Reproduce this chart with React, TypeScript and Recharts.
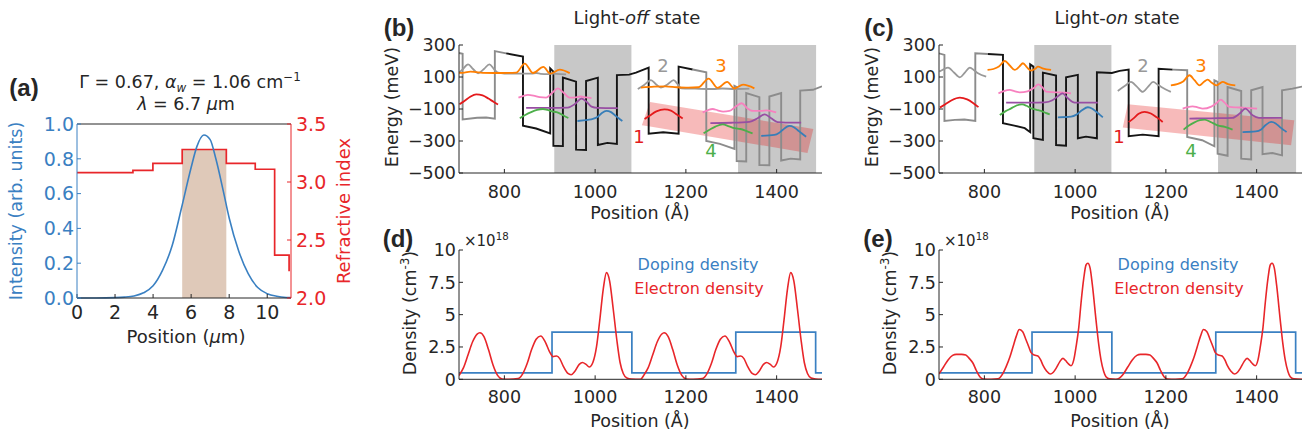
import React from 'react';
import { ComposedChart, Line, Area, XAxis, YAxis, ReferenceLine } from 'recharts';

const FONT = '"DejaVu Sans", "Liberation Sans", sans-serif';
const BOLD_FONT = '"Liberation Sans", Arial, sans-serif';
const AX = '#262626';
const BLUE = '#3A80C2';
const RED = '#E8262A';
const BAND_GRAY = '#8C8C8C';
const BAND_BLACK = '#151515';
const C_RED = '#E41A1C';
const C_BLUE = '#377EB8';
const C_GREEN = '#4DAF4A';
const C_PURPLE = '#984EA3';
const C_ORANGE = '#FF7F00';
const C_PINK = '#F781BF';
const C_GRAY = '#999999';
const SHADE = '#C8C8C8';
const TICK = 17.5;

type P = [number, number][];
const toXY = (a: P) => a.map(([x, y]) => ({ x, y }));

// ---------------- panel (a) ----------------
const posUm = [0, 1, 2, 2.5, 3, 3.5, 4, 4.5, 5, 5.5, 6, 6.3, 6.67, 7, 7.3, 7.7, 8, 8.5, 9, 9.5, 10, 10.5, 11, 11.25];
const intensity = [0, 0, 0.002, 0.005, 0.012, 0.03, 0.07, 0.16, 0.3, 0.52, 0.75, 0.87, 0.937, 0.91, 0.8, 0.61, 0.46, 0.27, 0.14, 0.06, 0.025, 0.01, 0.003, 0.002];
const stepPos = [0, 2.94, 3.99, 5.53, 7.85, 9.37, 10.39, 11.15];
const refIndex = [3.08, 3.1, 3.16, 3.28, 3.16, 3.11, 2.37, 2.23];
const activeRegion = [5.53, 7.85];
const activeTop = 0.85;
const aXTicks = [0, 2, 4, 6, 8, 10];
const aLeftTicks = [0, 0.2, 0.4, 0.6, 0.8, 1];
const aRightTicks = [2, 2.5, 3, 3.5];

// ---------------- panels (b),(c) ----------------
const posTicks = [800, 1000, 1200, 1400];
const energyTicks = [-500, -300, -100, 100, 300];
const barrierShade: [number, number][] = [[910, 1080], [1315, 1487]];

const offBandGrayL: P = [[700, 250], [708, 245], [708, -165], [740, -155], [760, -153], [779, -160], [779, 262], [804, 248]];
const offBandBlack: P = [[804, 248], [841, 228], [841, -204], [870, -222], [901, -252], [901, 154], [908, 134], [908, -330], [929, -332], [929, 96], [958, 71], [958, -354], [980, -356], [980, 75], [1006, 96], [1006, -325], [1027, -312], [1048, -318], [1048, 112], [1075, 115], [1090, 127], [1118, 158], [1118, -255], [1150, -245], [1184, -255], [1184, 165], [1215, 147]];
const offBandGrayR: P = [[1215, 147], [1245, 129], [1245, -300], [1275, -318], [1307, -350], [1307, 45], [1312, 37], [1312, -425], [1333, -428], [1333, 0], [1362, -26], [1362, -450], [1384, -452], [1384, -22], [1410, 0], [1410, -422], [1431, -410], [1452, -415], [1452, 15], [1480, 20], [1500, 42]];

const offOrange1: P = [[700, 126], [712, 128], [725, 134], [738, 130], [752, 126], [790, 125], [826, 127], [845, 184], [863, 125], [886, 163], [901, 121], [922, 146], [944, 124]];
const offOrange2: P = [[1101, 34], [1130, 40], [1155, 42], [1180, 36], [1205, 33], [1228, 36], [1250, 90], [1270, 32], [1291, 69], [1307, 28], [1326, 52], [1351, 29]];
const offGray1: P = [[700, 127], [708, 148], [720, 179], [731, 150], [742, 123], [755, 150], [767, 179], [777, 150], [786, 127], [800, 122], [840, 121], [860, 121], [870, 125], [880, 120], [895, 118], [905, 122], [915, 119], [936, 117]];
const offGray2: P = [[1094, 25], [1108, 50], [1123, 81], [1134, 55], [1145, 34], [1160, 55], [1173, 81], [1182, 55], [1190, 29], [1220, 27], [1260, 25], [1280, 28], [1307, 25], [1340, 27]];
const offRed1: P = [[701, -70], [712, -50], [724, -25], [738, -8], [752, -15], [765, -35], [776, -55], [786, -72]];
const offRed2: P = [[1109, -162], [1120, -142], [1135, -115], [1153, -102], [1167, -110], [1180, -135], [1193, -160]];
const offPink1: P = [[831, -29], [842, -18], [852, -12], [864, -16], [878, -26], [892, -29], [905, 0], [918, 29], [930, 3], [944, -29], [958, -27], [968, -22], [980, -28], [992, -32]];
const offPink2: P = [[1237, -121], [1248, -108], [1259, -100], [1270, -108], [1282, -116], [1296, -112], [1310, -85], [1323, -64], [1335, -95], [1348, -112], [1365, -112], [1378, -108], [1399, -121]];
const offPurple1: P = [[848, -93], [900, -93], [940, -91], [955, -70], [970, -35], [981, -55], [992, -85], [1005, -93], [1050, -95]];
const offPurple2: P = [[1254, -188], [1300, -186], [1340, -180], [1358, -158], [1374, -133], [1388, -158], [1402, -182], [1420, -185], [1454, -185]];
const offGreen1: P = [[834, -158], [846, -138], [859, -120], [872, -106], [885, -100], [895, -106], [905, -115], [915, -120], [925, -132], [933, -145], [941, -156]];
const offGreen2: P = [[1239, -252], [1252, -230], [1265, -210], [1281, -196], [1295, -208], [1307, -220], [1320, -225], [1334, -238], [1347, -252]];
const offBlue1: P = [[961, -175], [984, -168], [995, -162], [1006, -148], [1015, -125], [1025, -112], [1034, -118], [1043, -137], [1052, -158], [1060, -175]];
const offBlue2: P = [[1366, -268], [1395, -262], [1405, -250], [1413, -231], [1428, -206], [1438, -214], [1446, -231], [1455, -252], [1465, -273]];
const offBandX = [1103, 1121, 1468, 1481];
const offBandLow = [-202, -210, -375, -225];
const offBandHigh = [-202, -56, -219, -225];

const onBandGrayL: P = [[700, 248], [712, 238], [712, -175], [735, -168], [756, -166], [780, -175], [780, 248], [808, 244]];
const onBandBlack: P = [[808, 244], [841, 238], [841, -189], [866, -204], [889, -220], [901, -245], [901, 179], [908, 165], [908, -283], [929, -293], [929, 127], [958, 109], [958, -325], [980, -329], [980, 98], [1006, 113], [1006, -283], [1024, -273], [1048, -283], [1048, 129], [1081, 125], [1098, 138], [1118, 146], [1118, -270], [1149, -260], [1184, -270], [1184, 152], [1215, 146]];
const onBandGrayR: P = [[1215, 146], [1247, 142], [1247, -275], [1280, -295], [1307, -333], [1307, 79], [1314, 69], [1314, -379], [1336, -392], [1336, 37], [1366, 12], [1366, -410], [1388, -416], [1388, 17], [1413, 37], [1413, -383], [1435, -375], [1456, -390], [1456, 17], [1479, 27], [1500, 40]];

const onGray1: P = [[701, 134], [710, 148], [720, 159], [733, 128], [746, 98], [757, 128], [768, 159], [778, 140], [786, 123], [804, 102]];
const onGray2: P = [[1094, 13], [1110, 45], [1123, 69], [1136, 40], [1149, 7], [1161, 40], [1172, 69], [1182, 52], [1190, 38], [1211, 7]];
const onOrange1: P = [[807, 144], [820, 150], [832, 165], [845, 200], [856, 172], [867, 144], [877, 165], [885, 186], [894, 160], [903, 140], [912, 152], [918, 165], [930, 152], [947, 144]];
const onOrange2: P = [[1211, 48], [1225, 55], [1238, 72], [1252, 111], [1263, 80], [1274, 48], [1284, 70], [1292, 84], [1302, 62], [1311, 48], [1319, 60], [1325, 69], [1337, 56], [1353, 48]];
const onPink1: P = [[831, -2], [843, 12], [856, 19], [866, 12], [878, 4], [895, 10], [908, 30], [919, 54], [928, 35], [936, 9], [950, 5], [962, 4], [978, 2], [991, -2]];
const onPink2: P = [[1237, -98], [1248, -88], [1259, -83], [1270, -90], [1281, -98], [1300, -85], [1312, -62], [1321, -41], [1330, -62], [1340, -87], [1355, -90], [1369, -91], [1385, -94], [1401, -98]];
const onPurple1: P = [[848, -60], [900, -60], [933, -58], [950, -45], [962, -20], [972, -2], [984, -33], [999, -60], [1050, -60]];
const onPurple2: P = [[1252, -160], [1300, -158], [1347, -156], [1362, -130], [1375, -98], [1391, -139], [1405, -155], [1456, -156]];
const onGreen1: P = [[834, -137], [846, -115], [859, -96], [871, -78], [883, -71], [893, -80], [903, -96], [915, -105], [925, -112], [935, -124], [944, -133]];
const onGreen2: P = [[1239, -229], [1250, -205], [1262, -185], [1275, -170], [1285, -166], [1298, -180], [1314, -202], [1330, -212], [1347, -229]];
const onBlue1: P = [[962, -152], [991, -148], [1003, -135], [1015, -108], [1028, -89], [1038, -98], [1046, -116], [1054, -135], [1061, -152]];
const onBlue2: P = [[1369, -244], [1398, -240], [1410, -228], [1420, -200], [1432, -181], [1442, -190], [1452, -215], [1460, -232], [1466, -244]];
const onRed1: P = [[702, -91], [714, -70], [728, -45], [746, -29], [762, -40], [775, -62], [787, -88]];
const onRed2: P = [[1118, -181], [1128, -160], [1140, -130], [1153, -118], [1167, -128], [1180, -152], [1193, -181]];
const onBandX = [1105, 1116, 1476, 1483];
const onBandLow = [-216, -219, -327, -171];
const onBandHigh = [-216, -71, -169, -171];

// ---------------- panels (d),(e) ----------------
const densityTicks = [0, 2.5, 5, 7.5, 10];
const dopingPos = [700, 905, 1081, 1310, 1486, 1500];
const dopingVal = [0.5, 3.65, 0.5, 3.65, 0.5, 0.5];

const offElectron: P = [[700, 0.3], [710, 0.9], [720, 1.9], [730, 2.9], [740, 3.5], [746, 3.6], [755, 3.3], [765, 2.3], [775, 1.1], [785, 0.3], [795, 0.02], [810, 0], [830, 0.05], [840, 0.4], [850, 1.2], [860, 2.3], [870, 3.1], [880, 3.35], [890, 2.9], [900, 2.1], [907, 1.75], [915, 1.8], [922, 1.6], [930, 1.0], [940, 0.45], [947, 0.35], [955, 0.6], [965, 1.15], [972, 1.3], [980, 1.15], [987, 0.95], [995, 1.3], [1003, 2.5], [1010, 4.5], [1018, 7.0], [1025, 8.25], [1032, 7.6], [1040, 5.4], [1048, 3.0], [1055, 1.3], [1062, 0.45], [1070, 0.1], [1080, 0.02], [1100, 0],
  [1108, 0.35], [1117, 0.9], [1127, 1.9], [1137, 2.9], [1147, 3.5], [1152, 3.6], [1161, 3.3], [1171, 2.3], [1181, 1.1], [1191, 0.3], [1201, 0.02], [1216, 0], [1236, 0.05], [1246, 0.4], [1256, 1.2], [1266, 2.3], [1276, 3.1], [1286, 3.35], [1296, 2.9], [1306, 2.1], [1313, 1.75], [1321, 1.8], [1328, 1.6], [1336, 1.0], [1346, 0.45], [1353, 0.35], [1361, 0.6], [1371, 1.15], [1378, 1.3], [1386, 1.15], [1393, 0.95], [1401, 1.3], [1409, 2.5], [1416, 4.5], [1424, 7.0], [1431, 8.25], [1438, 7.6], [1446, 5.4], [1454, 3.0], [1461, 1.3], [1468, 0.45], [1476, 0.1], [1486, 0.02], [1500, 0]];

const onElectron: P = [[700, 0.41], [710, 0.95], [720, 1.5], [730, 1.85], [738, 1.93], [750, 1.93], [759, 1.88], [767, 1.6], [775, 1.24], [782, 0.7], [790, 0.2], [798, 0.02], [815, 0], [830, 0.03], [840, 0.4], [848, 0.98], [856, 1.7], [863, 2.5], [870, 3.3], [877, 3.85], [884, 3.7], [892, 3.04], [898, 2.5], [903, 2.06], [910, 1.88], [918, 1.8], [924, 1.5], [929, 1.1], [937, 0.65], [945, 0.41], [952, 0.55], [958, 0.85], [966, 1.35], [973, 1.62], [979, 1.45], [984, 1.24], [991, 1.05], [997, 1.5], [1002, 2.5], [1008, 4.0], [1013, 5.9], [1019, 7.8], [1024, 8.84], [1028, 8.97], [1033, 8.6], [1038, 7.3], [1046, 4.6], [1052, 2.7], [1057, 1.5], [1063, 0.6], [1068, 0.2], [1076, 0.03], [1090, 0],
  [1106, 0.4], [1116, 0.95], [1126, 1.5], [1136, 1.85], [1144, 1.93], [1156, 1.93], [1165, 1.88], [1173, 1.6], [1181, 1.24], [1188, 0.7], [1196, 0.2], [1204, 0.02], [1221, 0], [1236, 0.03], [1246, 0.4], [1254, 0.98], [1262, 1.7], [1269, 2.5], [1276, 3.3], [1283, 3.85], [1290, 3.7], [1298, 3.04], [1304, 2.5], [1309, 2.06], [1316, 1.88], [1324, 1.8], [1330, 1.5], [1335, 1.1], [1343, 0.65], [1351, 0.41], [1358, 0.55], [1364, 0.85], [1372, 1.35], [1379, 1.62], [1385, 1.45], [1390, 1.24], [1397, 1.05], [1403, 1.5], [1408, 2.5], [1414, 4.0], [1419, 5.9], [1425, 7.8], [1430, 8.84], [1434, 8.97], [1439, 8.6], [1444, 7.3], [1452, 4.6], [1458, 2.7], [1463, 1.5], [1469, 0.6], [1474, 0.2], [1482, 0.03], [1500, 0]];

// ---------------- helpers ----------------
const tickStyle = (size: number, color = AX) => ({ fontSize: size, fill: color, fontFamily: FONT });
const fmtEnergy = (v: number) => (v < 0 ? '\u2212' + Math.abs(v) : String(v));

// y tick of the energy axes, drawn as one plain SVG text node (no word splitting)
const EnergyTick = (props: any) => {
  const { x, y, payload } = props;
  return (
    <text x={x} y={y} dy="0.355em" textAnchor="end" fontSize={TICK} fill={AX} fontFamily={FONT}>
      {fmtEnergy(payload.value)}
    </text>
  );
};

type TxtProps = { x: number; y: number; size?: number; color?: string; rot?: number; weight?: number; family?: string; align?: 'center' | 'left'; children: React.ReactNode };
function Txt({ x, y, size = 18, color = AX, rot = 0, weight = 400, family = FONT, align = 'center', children }: TxtProps) {
  const tx = align === 'center' ? '-50%' : '0';
  return (
    <div style={{ position: 'absolute', left: x, top: y, transform: `translate(${tx},-50%) rotate(${rot}deg)`, fontFamily: family, fontSize: size, color, whiteSpace: 'nowrap', fontWeight: weight, lineHeight: 1 }}>
      {children}
    </div>
  );
}
const Sup = ({ children }: { children: React.ReactNode }) => (
  <span style={{ fontSize: '0.68em', position: 'relative', top: '-0.55em' }}>{children}</span>
);
const Sub = ({ children }: { children: React.ReactNode }) => (
  <span style={{ fontSize: '0.68em', position: 'relative', top: '0.3em' }}>{children}</span>
);

type Wave = { color: string; pts: P };

function BandChart({ left, grayL, black, grayR, waves, bx, blo, bhi }: { left: number; grayL: P; black: P; grayR: P; waves: Wave[]; bx: number[]; blo: number[]; bhi: number[] }) {
  const para = bx.map((x, i) => ({ x, r: [blo[i], bhi[i]] }));
  return (
    <div style={{ position: 'absolute', left, top: 0 }}>
      <ComposedChart width={450} height={230} margin={{ top: 45, right: 8, bottom: 32, left: 0 }}>
        <XAxis type="number" dataKey="x" domain={[700, 1500]} ticks={posTicks} allowDataOverflow stroke={AX} tickSize={-4} tickMargin={17} tick={tickStyle(TICK)} height={25} />
        <YAxis type="number" domain={[-500, 300]} ticks={energyTicks} allowDataOverflow width={79} stroke={AX} tickSize={-4} tickMargin={7} tick={<EnergyTick />} />
        {barrierShade.map(([a, b], i) => (
          <Area key={'s' + i} data={[{ x: a, r: [-500, 300] }, { x: b, r: [-500, 300] }]} dataKey="r" type="linear" fill={SHADE} fillOpacity={1} stroke="none" isAnimationActive={false} />
        ))}
        <Area data={para} dataKey="r" type="linear" fill={C_RED} fillOpacity={0.3} stroke="none" isAnimationActive={false} />
        <Line data={toXY(grayL)} dataKey="y" type="linear" stroke={BAND_GRAY} strokeWidth={1.9} dot={false} isAnimationActive={false} />
        <Line data={toXY(black)} dataKey="y" type="linear" stroke={BAND_BLACK} strokeWidth={1.9} dot={false} isAnimationActive={false} />
        <Line data={toXY(grayR)} dataKey="y" type="linear" stroke={BAND_GRAY} strokeWidth={1.9} dot={false} isAnimationActive={false} />
        {waves.map((w, i) => (
          <Line key={'w' + i} data={toXY(w.pts)} dataKey="y" type="monotoneX" stroke={w.color} strokeWidth={1.8} dot={false} isAnimationActive={false} />
        ))}
      </ComposedChart>
    </div>
  );
}

function DensityChart({ left, electron }: { left: number; electron: P }) {
  const doping = dopingPos.map((x, i) => ({ x, y: dopingVal[i] }));
  return (
    <div style={{ position: 'absolute', left, top: 230 }}>
      <ComposedChart width={450} height={211} margin={{ top: 20, right: 8, bottom: 36.7, left: 0 }}>
        <XAxis type="number" dataKey="x" domain={[700, 1500]} ticks={posTicks} allowDataOverflow stroke={AX} tickSize={-4} tickMargin={15} tick={tickStyle(TICK)} height={25} />
        <YAxis type="number" domain={[0, 10]} ticks={densityTicks} allowDataOverflow width={79} stroke={AX} tickSize={-4} tickMargin={7} tick={tickStyle(TICK)} />
        <Line data={doping} dataKey="y" type="stepAfter" stroke={BLUE} strokeWidth={1.7} dot={false} isAnimationActive={false} />
        <Line data={toXY(electron)} dataKey="y" type="monotoneX" stroke={RED} strokeWidth={1.6} dot={false} isAnimationActive={false} />
      </ComposedChart>
    </div>
  );
}

function PanelA() {
  const inten = posUm.map((x, i) => ({ x, y: intensity[i] }));
  const refr = stepPos.map((x, i) => ({ x, y: refIndex[i] }));
  const shade = activeRegion.map((x) => ({ x, y: activeTop }));
  return (
    <div style={{ position: 'absolute', left: 0, top: 0 }}>
      <ComposedChart width={360} height={360} margin={{ top: 124, right: 0, bottom: 32, left: 0 }}>
        <XAxis type="number" dataKey="x" domain={[0, 11.25]} ticks={aXTicks} allowDataOverflow stroke={AX} tickSize={-4} tickMargin={12} tick={tickStyle(19)} height={30} />
        <YAxis yAxisId="left" type="number" domain={[0, 1]} ticks={aLeftTicks} width={77} stroke={BLUE} tickSize={-4} tickMargin={7} tick={tickStyle(19, BLUE)} tickFormatter={(v: number) => v.toFixed(1)} />
        <YAxis yAxisId="right" orientation="right" type="number" domain={[2, 3.5]} ticks={aRightTicks} width={69} stroke={RED} tickSize={-4} tickMargin={9} tick={tickStyle(19, RED)} tickFormatter={(v: number) => v.toFixed(1)} />
        <ReferenceLine yAxisId="left" y={1} stroke={AX} strokeWidth={1} />
        <Area yAxisId="left" data={shade} dataKey="y" type="linear" fill="#DFC9B9" fillOpacity={1} stroke="none" isAnimationActive={false} />
        <Line yAxisId="right" data={refr} dataKey="y" type="stepAfter" stroke={RED} strokeWidth={1.7} dot={false} isAnimationActive={false} />
        <Line yAxisId="left" data={inten} dataKey="y" type="monotoneX" stroke={BLUE} strokeWidth={1.6} dot={false} isAnimationActive={false} />
      </ComposedChart>
    </div>
  );
}

export default function App() {
  const offWaves: Wave[] = [
    { color: C_GRAY, pts: offGray1 }, { color: C_GRAY, pts: offGray2 },
    { color: C_ORANGE, pts: offOrange1 }, { color: C_ORANGE, pts: offOrange2 },
    { color: C_RED, pts: offRed1 }, { color: C_RED, pts: offRed2 },
    { color: C_PINK, pts: offPink1 }, { color: C_PINK, pts: offPink2 },
    { color: C_PURPLE, pts: offPurple1 }, { color: C_PURPLE, pts: offPurple2 },
    { color: C_GREEN, pts: offGreen1 }, { color: C_GREEN, pts: offGreen2 },
    { color: C_BLUE, pts: offBlue1 }, { color: C_BLUE, pts: offBlue2 },
  ];
  const onWaves: Wave[] = [
    { color: C_GRAY, pts: onGray1 }, { color: C_GRAY, pts: onGray2 },
    { color: C_ORANGE, pts: onOrange1 }, { color: C_ORANGE, pts: onOrange2 },
    { color: C_RED, pts: onRed1 }, { color: C_RED, pts: onRed2 },
    { color: C_PINK, pts: onPink1 }, { color: C_PINK, pts: onPink2 },
    { color: C_PURPLE, pts: onPurple1 }, { color: C_PURPLE, pts: onPurple2 },
    { color: C_GREEN, pts: onGreen1 }, { color: C_GREEN, pts: onGreen2 },
    { color: C_BLUE, pts: onBlue1 }, { color: C_BLUE, pts: onBlue2 },
  ];
  return (
    <div style={{ position: 'absolute', left: 0, top: 0, width: 1310, height: 441, background: '#fff', overflow: 'hidden', fontFamily: FONT }}>
      <PanelA />
      <BandChart left={380} grayL={offBandGrayL} black={offBandBlack} grayR={offBandGrayR} waves={offWaves} bx={offBandX} blo={offBandLow} bhi={offBandHigh} />
      <BandChart left={860} grayL={onBandGrayL} black={onBandBlack} grayR={onBandGrayR} waves={onWaves} bx={onBandX} blo={onBandLow} bhi={onBandHigh} />
      <DensityChart left={380} electron={offElectron} />
      <DensityChart left={860} electron={onElectron} />

      {/* panel letters */}
      <Txt x={24} y={88} size={24} weight={700} family={BOLD_FONT}>(a)</Txt>
      <Txt x={399} y={28} size={24} weight={700} family={BOLD_FONT}>(b)</Txt>
      <Txt x={879} y={28} size={24} weight={700} family={BOLD_FONT}>(c)</Txt>
      <Txt x={398} y={239} size={24} weight={700} family={BOLD_FONT}>(d)</Txt>
      <Txt x={878} y={239} size={24} weight={700} family={BOLD_FONT}>(e)</Txt>

      {/* panel (a) texts */}
      <Txt x={190} y={83} size={17.5}>Γ = 0.67, <i>α</i><Sub><i>w</i></Sub> = 1.06 cm<Sup>−1</Sup></Txt>
      <Txt x={186} y={105} size={17.5}><i>λ</i> = 6.7 <i>μ</i>m</Txt>
      <Txt x={17} y={211} size={17.5} color={BLUE} rot={-90}>Intensity (arb. units)</Txt>
      <Txt x={344} y={211} size={18} color={RED} rot={-90}>Refractive index</Txt>
      <Txt x={186} y={337} size={18}>Position (<i>μ</i>m)</Txt>

      {/* panel (b)/(c) texts */}
      <Txt x={637} y={18} size={18}>Light-<i>off</i> state</Txt>
      <Txt x={1117} y={18} size={18}>Light-<i>on</i> state</Txt>
      <Txt x={393} y={107} size={17.5} rot={-90}>Energy (meV)</Txt>
      <Txt x={873} y={107} size={17.5} rot={-90}>Energy (meV)</Txt>
      <Txt x={640} y={214} size={17.5}>Position (Å)</Txt>
      <Txt x={1120} y={214} size={17.5}>Position (Å)</Txt>
      <Txt x={639} y={137} size={18} color={C_RED}>1</Txt>
      <Txt x={663} y={66} size={18} color={C_GRAY}>2</Txt>
      <Txt x={721} y={66} size={18} color={C_ORANGE}>3</Txt>
      <Txt x={711} y={151} size={18} color={C_GREEN}>4</Txt>
      <Txt x={1119} y={137} size={18} color={C_RED}>1</Txt>
      <Txt x={1143} y={66} size={18} color={C_GRAY}>2</Txt>
      <Txt x={1201} y={66} size={18} color={C_ORANGE}>3</Txt>
      <Txt x={1191} y={151} size={18} color={C_GREEN}>4</Txt>

      {/* panel (d)/(e) texts */}
      <Txt x={411} y={313} size={17.5} rot={-90}>Density (cm<Sup>-3</Sup>)</Txt>
      <Txt x={891} y={313} size={17.5} rot={-90}>Density (cm<Sup>-3</Sup>)</Txt>
      <Txt x={464} y={241} size={15} align="left">×10<Sup>18</Sup></Txt>
      <Txt x={944} y={241} size={15} align="left">×10<Sup>18</Sup></Txt>
      <Txt x={640} y={422} size={17.5}>Position (Å)</Txt>
      <Txt x={1120} y={422} size={17.5}>Position (Å)</Txt>
      <Txt x={698} y={265} size={16} color={BLUE}>Doping density</Txt>
      <Txt x={699} y={289} size={16} color={RED}>Electron density</Txt>
      <Txt x={1178} y={265} size={16} color={BLUE}>Doping density</Txt>
      <Txt x={1179} y={289} size={16} color={RED}>Electron density</Txt>
    </div>
  );
}
